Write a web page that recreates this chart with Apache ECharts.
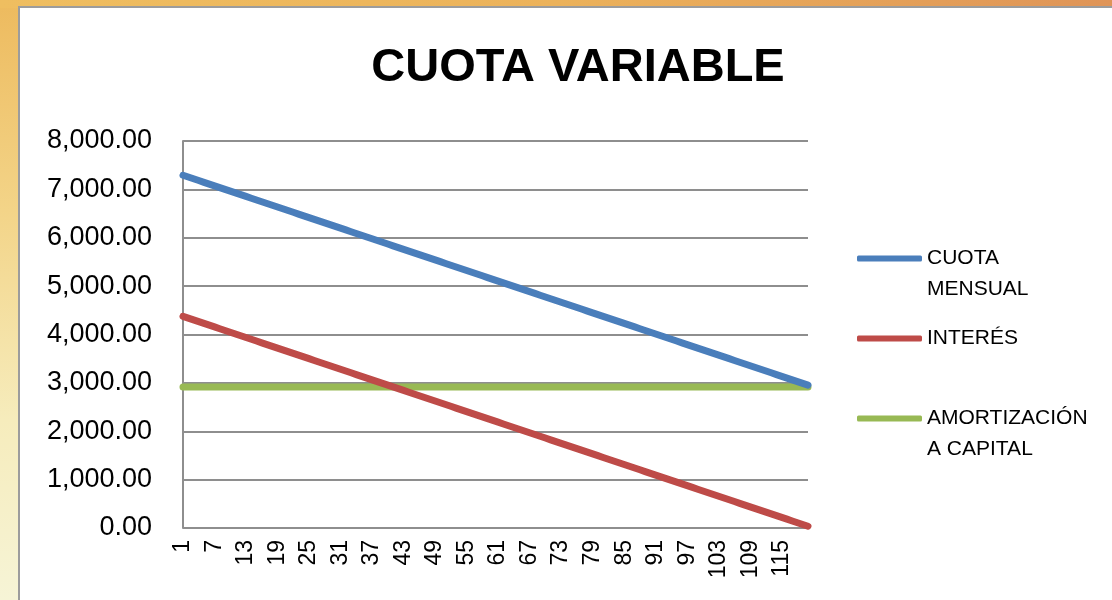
<!DOCTYPE html>
<html>
<head>
<meta charset="utf-8">
<script src="https://cdn.jsdelivr.net/npm/echarts@6/dist/echarts.min.js"></script>
<style>
  html, body { margin: 0; padding: 0; width: 1112px; height: 600px; overflow: hidden; }
  body { position: relative; background: linear-gradient(to bottom, #EDBA5E 0%, #F3D488 35%, #F6ECBC 70%, #F6F4D6 100%); }
  #topstrip { position: absolute; left: 0; top: 0; width: 1112px; height: 8px; background: linear-gradient(to right, #EFBE60 0%, #ECB25A 50%, #DF9457 100%); }
  #panel { position: absolute; left: 18px; top: 6px; width: 1120px; height: 620px; background: #fff; border: 2px solid #9c9c9c; box-sizing: border-box; }
  #chart { position: absolute; left: 0; top: 0; width: 1112px; height: 600px; }
</style>
</head>
<body>
<div id="topstrip"></div>
<div id="panel"></div>
<div id="chart"></div>
<script>
const categories = [
  1,2,3,4,5,6,7,8,9,10,11,12,13,14,15,16,17,18,19,20,
  21,22,23,24,25,26,27,28,29,30,31,32,33,34,35,36,37,38,39,40,
  41,42,43,44,45,46,47,48,49,50,51,52,53,54,55,56,57,58,59,60,
  61,62,63,64,65,66,67,68,69,70,71,72,73,74,75,76,77,78,79,80,
  81,82,83,84,85,86,87,88,89,90,91,92,93,94,95,96,97,98,99,100,
  101,102,103,104,105,106,107,108,109,110,111,112,113,114,115,116,117,118,119,120
];

const cuotaMensual = [
  7291.67, 7255.21, 7218.75, 7182.29, 7145.83, 7109.38, 7072.92, 7036.46, 7000.00, 6963.54, 6927.08, 6890.63,
  6854.17, 6817.71, 6781.25, 6744.79, 6708.33, 6671.88, 6635.42, 6598.96, 6562.50, 6526.04, 6489.58, 6453.13,
  6416.67, 6380.21, 6343.75, 6307.29, 6270.83, 6234.38, 6197.92, 6161.46, 6125.00, 6088.54, 6052.08, 6015.63,
  5979.17, 5942.71, 5906.25, 5869.79, 5833.33, 5796.88, 5760.42, 5723.96, 5687.50, 5651.04, 5614.58, 5578.13,
  5541.67, 5505.21, 5468.75, 5432.29, 5395.83, 5359.38, 5322.92, 5286.46, 5250.00, 5213.54, 5177.08, 5140.63,
  5104.17, 5067.71, 5031.25, 4994.79, 4958.33, 4921.88, 4885.42, 4848.96, 4812.50, 4776.04, 4739.58, 4703.13,
  4666.67, 4630.21, 4593.75, 4557.29, 4520.83, 4484.38, 4447.92, 4411.46, 4375.00, 4338.54, 4302.08, 4265.63,
  4229.17, 4192.71, 4156.25, 4119.79, 4083.33, 4046.88, 4010.42, 3973.96, 3937.50, 3901.04, 3864.58, 3828.13,
  3791.67, 3755.21, 3718.75, 3682.29, 3645.83, 3609.38, 3572.92, 3536.46, 3500.00, 3463.54, 3427.08, 3390.63,
  3354.17, 3317.71, 3281.25, 3244.79, 3208.33, 3171.88, 3135.42, 3098.96, 3062.50, 3026.04, 2989.58, 2953.13
];

const interes = [
  4375.00, 4338.54, 4302.08, 4265.63, 4229.17, 4192.71, 4156.25, 4119.79, 4083.33, 4046.88, 4010.42, 3973.96,
  3937.50, 3901.04, 3864.58, 3828.13, 3791.67, 3755.21, 3718.75, 3682.29, 3645.83, 3609.38, 3572.92, 3536.46,
  3500.00, 3463.54, 3427.08, 3390.63, 3354.17, 3317.71, 3281.25, 3244.79, 3208.33, 3171.88, 3135.42, 3098.96,
  3062.50, 3026.04, 2989.58, 2953.13, 2916.67, 2880.21, 2843.75, 2807.29, 2770.83, 2734.38, 2697.92, 2661.46,
  2625.00, 2588.54, 2552.08, 2515.63, 2479.17, 2442.71, 2406.25, 2369.79, 2333.33, 2296.88, 2260.42, 2223.96,
  2187.50, 2151.04, 2114.58, 2078.13, 2041.67, 2005.21, 1968.75, 1932.29, 1895.83, 1859.38, 1822.92, 1786.46,
  1750.00, 1713.54, 1677.08, 1640.63, 1604.17, 1567.71, 1531.25, 1494.79, 1458.33, 1421.88, 1385.42, 1348.96,
  1312.50, 1276.04, 1239.58, 1203.13, 1166.67, 1130.21, 1093.75, 1057.29, 1020.83, 984.38, 947.92, 911.46,
  875.00, 838.54, 802.08, 765.63, 729.17, 692.71, 656.25, 619.79, 583.33, 546.88, 510.42, 473.96,
  437.50, 401.04, 364.58, 328.13, 291.67, 255.21, 218.75, 182.29, 145.83, 109.38, 72.92, 36.46
];

const amortizacion = [
  2916.67, 2916.67, 2916.67, 2916.67, 2916.67, 2916.67, 2916.67, 2916.67, 2916.67, 2916.67, 2916.67, 2916.67,
  2916.67, 2916.67, 2916.67, 2916.67, 2916.67, 2916.67, 2916.67, 2916.67, 2916.67, 2916.67, 2916.67, 2916.67,
  2916.67, 2916.67, 2916.67, 2916.67, 2916.67, 2916.67, 2916.67, 2916.67, 2916.67, 2916.67, 2916.67, 2916.67,
  2916.67, 2916.67, 2916.67, 2916.67, 2916.67, 2916.67, 2916.67, 2916.67, 2916.67, 2916.67, 2916.67, 2916.67,
  2916.67, 2916.67, 2916.67, 2916.67, 2916.67, 2916.67, 2916.67, 2916.67, 2916.67, 2916.67, 2916.67, 2916.67,
  2916.67, 2916.67, 2916.67, 2916.67, 2916.67, 2916.67, 2916.67, 2916.67, 2916.67, 2916.67, 2916.67, 2916.67,
  2916.67, 2916.67, 2916.67, 2916.67, 2916.67, 2916.67, 2916.67, 2916.67, 2916.67, 2916.67, 2916.67, 2916.67,
  2916.67, 2916.67, 2916.67, 2916.67, 2916.67, 2916.67, 2916.67, 2916.67, 2916.67, 2916.67, 2916.67, 2916.67,
  2916.67, 2916.67, 2916.67, 2916.67, 2916.67, 2916.67, 2916.67, 2916.67, 2916.67, 2916.67, 2916.67, 2916.67,
  2916.67, 2916.67, 2916.67, 2916.67, 2916.67, 2916.67, 2916.67, 2916.67, 2916.67, 2916.67, 2916.67, 2916.67
];

const seriesNames = ['CUOTA MENSUAL', 'INTERÉS', 'AMORTIZACIÓN A CAPITAL'];
const legendLabels = {
  'CUOTA MENSUAL': '\nCUOTA\nMENSUAL',
  'INTERÉS': 'INTERÉS',
  'AMORTIZACIÓN A CAPITAL': '\nAMORTIZACIÓN\nA CAPITAL'
};
const colors = ['#4A7EBB', '#BE4B48', '#98B954'];
const titleText = 'CUOTA VARIABLE';

const FONT = '"Liberation Sans", Arial, sans-serif';

const chart = echarts.init(document.getElementById('chart'), null, { renderer: 'canvas' });

function fmt(v) {
  return v.toLocaleString('en-US', { minimumFractionDigits: 2, maximumFractionDigits: 2 });
}

chart.setOption({
  backgroundColor: 'transparent',
  animation: false,
  color: colors,
  title: {
    text: titleText,
    left: 573,
    top: 40,
    textAlign: 'center',
    textStyle: { fontFamily: FONT, fontWeight: 'bold', fontSize: 47, color: '#000' }
  },
  legend: {
    orient: 'vertical',
    left: 857,
    top: 212,
    padding: 0,
    itemGap: 18,
    itemWidth: 65,
    itemHeight: 6,
    icon: 'roundRect',
    data: seriesNames,
    formatter: function (name) { return legendLabels[name]; },
    textStyle: { fontFamily: FONT, fontSize: 21, color: '#000', lineHeight: 31 }
  },
  grid: { left: 183, right: 304, top: 141, bottom: 72, containLabel: false },
  xAxis: {
    type: 'category',
    data: categories,
    boundaryGap: false,
    axisLine: { show: false },
    axisTick: { show: false },
    splitLine: { show: false },
    axisLabel: {
      interval: 5,
      rotate: 90,
      margin: 12,
      fontFamily: FONT,
      fontSize: 23,
      color: '#000'
    }
  },
  yAxis: {
    type: 'value',
    min: 0,
    max: 8000,
    interval: 1000,
    axisLine: { show: true, lineStyle: { color: '#8e8e8e', width: 2 } },
    axisTick: { show: false },
    splitLine: { show: true, lineStyle: { color: '#8e8e8e', width: 2 } },
    axisLabel: {
      margin: 31,
      fontFamily: FONT,
      fontSize: 27,
      color: '#000',
      formatter: fmt
    }
  },
  series: [
    { name: seriesNames[0], type: 'line', data: cuotaMensual, showSymbol: false, symbol: 'none',
      lineStyle: { width: 7, color: colors[0], cap: 'round', join: 'round' }, z: 3 },
    { name: seriesNames[1], type: 'line', data: interes, showSymbol: false, symbol: 'none',
      lineStyle: { width: 7, color: colors[1], cap: 'round', join: 'round' }, z: 3 },
    { name: seriesNames[2], type: 'line', data: amortizacion, showSymbol: false, symbol: 'none',
      lineStyle: { width: 7, color: colors[2], cap: 'round', join: 'round' }, z: 2 }
  ]
});
</script>
</body>
</html>
